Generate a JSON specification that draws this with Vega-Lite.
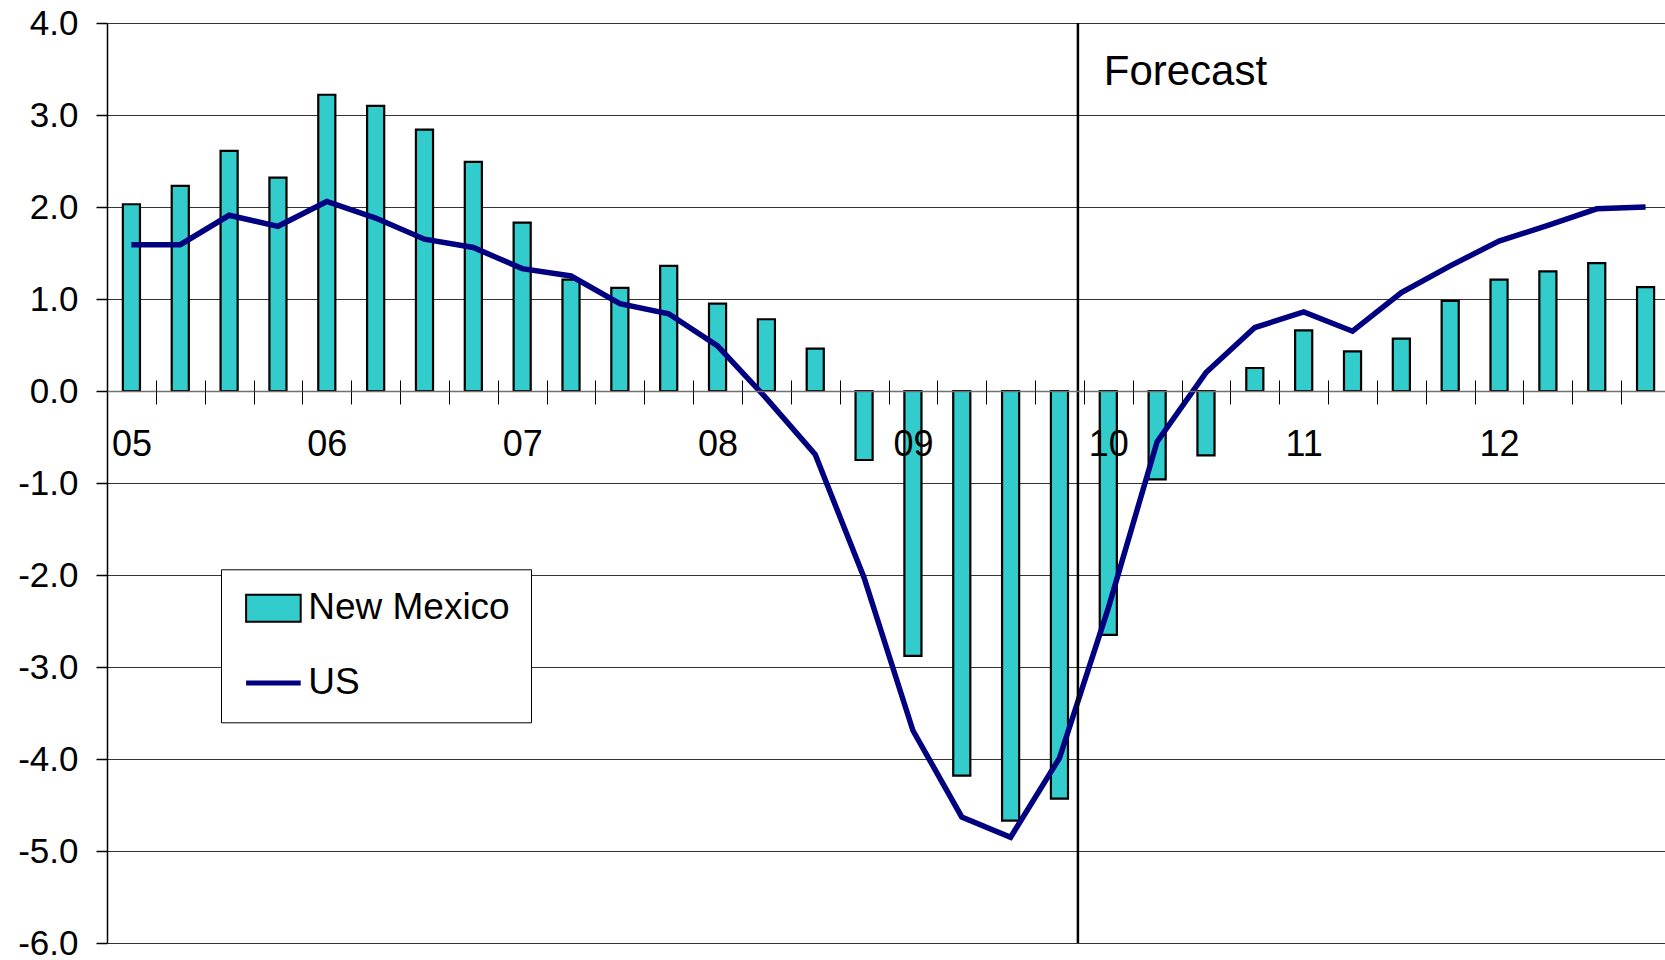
{
  "$schema": "https://vega.github.io/schema/vega-lite/v6.json",
  "width": 1558,
  "height": 920,
  "autosize": {"type": "none"},
  "padding": {"left": 107, "top": 23, "right": 0, "bottom": 17},
  "background": "#ffffff",
  "config": {
    "view": {"stroke": null},
    "font": "Liberation Sans",
    "axis": {"labelFont": "Liberation Sans", "labelColor": "#000000", "tickColor": "#000000"}
  },
  "datasets": {
    "main": [
      {"q": "05Q1", "nm": 2.03, "us": 1.59},
      {"q": "05Q2", "nm": 2.23, "us": 1.59},
      {"q": "05Q3", "nm": 2.61, "us": 1.91},
      {"q": "05Q4", "nm": 2.32, "us": 1.79},
      {"q": "06Q1", "nm": 3.22, "us": 2.06},
      {"q": "06Q2", "nm": 3.10, "us": 1.88},
      {"q": "06Q3", "nm": 2.84, "us": 1.65},
      {"q": "06Q4", "nm": 2.49, "us": 1.56},
      {"q": "07Q1", "nm": 1.83, "us": 1.33},
      {"q": "07Q2", "nm": 1.21, "us": 1.25},
      {"q": "07Q3", "nm": 1.12, "us": 0.95},
      {"q": "07Q4", "nm": 1.36, "us": 0.84},
      {"q": "08Q1", "nm": 0.95, "us": 0.49},
      {"q": "08Q2", "nm": 0.78, "us": -0.08},
      {"q": "08Q3", "nm": 0.46, "us": -0.69},
      {"q": "08Q4", "nm": -0.75, "us": -2.03},
      {"q": "09Q1", "nm": -2.88, "us": -3.69},
      {"q": "09Q2", "nm": -4.18, "us": -4.63},
      {"q": "09Q3", "nm": -4.67, "us": -4.85},
      {"q": "09Q4", "nm": -4.43, "us": -3.99},
      {"q": "10Q1", "nm": -2.65, "us": -2.36},
      {"q": "10Q2", "nm": -0.96, "us": -0.55},
      {"q": "10Q3", "nm": -0.70, "us": 0.20},
      {"q": "10Q4", "nm": 0.25, "us": 0.69},
      {"q": "11Q1", "nm": 0.66, "us": 0.86},
      {"q": "11Q2", "nm": 0.43, "us": 0.65},
      {"q": "11Q3", "nm": 0.57, "us": 1.07},
      {"q": "11Q4", "nm": 0.98, "us": 1.36},
      {"q": "12Q1", "nm": 1.21, "us": 1.63},
      {"q": "12Q2", "nm": 1.30, "us": 1.80},
      {"q": "12Q3", "nm": 1.39, "us": 1.98},
      {"q": "12Q4", "nm": 1.13, "us": 2.00}
    ]
  },
  "data": {"name": "main"},
  "resolve": {"scale": {"x": "shared"}, "axis": {"x": "independent"}},
  "layer": [
    {
      "mark": {"type": "bar", "stroke": "#000000", "strokeWidth": 2.2},
      "encoding": {
        "x": {
          "field": "q", "type": "ordinal",
          "scale": {"range": [0, 1563], "paddingInner": 0.65, "paddingOuter": 0.325},
          "axis": {
            "orient": "bottom", "offset": -552, "title": null, "grid": false,
            "bandPosition": 0.5, "tickOffset": -24.42, "labelOffset": 24.42,
            "labelExpr": "indexof(datum.value, 'Q1') > 0 ? substring(datum.value, 0, 2) : ''",
            "labelAngle": 0, "labelFontSize": 36, "labelPadding": 23, "labelOverlap": false, "labelBound": false,
            "tickSize": 13, "tickWidth": 1, "tickColor": "#000000",
            "domainColor": "#707070", "domainWidth": 1.5, "zindex": 1
          }
        },
        "y": {
          "field": "nm", "type": "quantitative",
          "scale": {"domain": [-6, 4], "nice": false, "zero": false},
          "axis": {
            "title": null, "values": [-6, -5, -4, -3, -2, -1, 0, 1, 2, 3, 4],
            "labelExpr": "(datum.value < 0 ? '-' : '') + format(abs(datum.value), '.1f')",
            "labelFontSize": 35, "labelPadding": 18, "tickSize": 11, "tickWidth": 1.5,
            "domainColor": "#000000", "domainWidth": 1.5,
            "grid": true, "gridColor": "#333333", "gridWidth": 1
          }
        },
        "fill": {
          "datum": "New Mexico",
          "scale": {"domain": ["New Mexico"], "range": ["#33CCCC"]},
          "legend": {
            "orient": "none", "legendX": 114, "legendY": 546.3, "title": null, "zindex": 2,
            "padding": 20.5, "rowPadding": 36.6,
            "labelFontSize": 37, "labelFont": "Liberation Sans", "labelColor": "#000000", "labelOpacity": 0,
            "labelOffset": 16.3, "labelLimit": 400,
            "symbolSize": 973, "symbolOffset": 13.4,
            "symbolType": "M-1.75,-0.865H1.75V0.865H-1.75Z",
            "symbolStrokeColor": "#000000", "symbolStrokeWidth": 2,
            "symbolFillColor": "#33CCCC", "symbolOpacity": 1
          }
        }
      }
    },
    {
      "mark": {"type": "line", "strokeWidth": 5.5},
      "encoding": {
        "x": {
          "field": "q", "type": "ordinal", "bandPosition": 0.5,
          "axis": {
            "orient": "top", "offset": -368, "title": null, "grid": false, "labels": false, "domain": false,
            "bandPosition": 0.5, "tickOffset": -24.42, "tickSize": 11, "tickWidth": 1, "tickColor": "#000000", "zindex": 1
          }
        },
        "y": {"field": "us", "type": "quantitative"},
        "stroke": {
          "datum": "US",
          "scale": {"domain": ["New Mexico", "US"], "range": ["transparent", "#000080"]},
          "legend": {
            "orient": "none", "legendX": 114, "legendY": 546.3, "title": null, "zindex": 1,
            "strokeColor": "#000000", "fillColor": "#ffffff",
            "padding": 20.5, "rowPadding": 36.6,
            "labelFontSize": 37, "labelFont": "Liberation Sans", "labelColor": "#000000",
            "labelOffset": 16.3, "labelLimit": 400,
            "symbolSize": 973, "symbolOffset": 13.4,
            "symbolType": "M-1.75,0H1.75", "symbolStrokeWidth": 5, "symbolOpacity": 1
          }
        }
      }
    },
    {
      "data": {"values": [{"q": "09Q4"}]},
      "mark": {"type": "rule", "color": "#000000", "strokeWidth": 2.5},
      "encoding": {
        "x": {"field": "q", "type": "ordinal", "bandPosition": 1.58, "axis": null}
      }
    },
    {
      "data": {"values": [{"q": "10Q1", "v": 3.33, "label": "Forecast"}]},
      "mark": {"type": "text", "align": "left", "baseline": "alphabetic", "dx": 4, "fontSize": 42, "font": "Liberation Sans", "color": "#000000"},
      "encoding": {
        "x": {"field": "q", "type": "ordinal", "bandPosition": 0, "axis": null},
        "y": {"field": "v", "type": "quantitative"},
        "text": {"field": "label"}
      }
    }
  ]
}
